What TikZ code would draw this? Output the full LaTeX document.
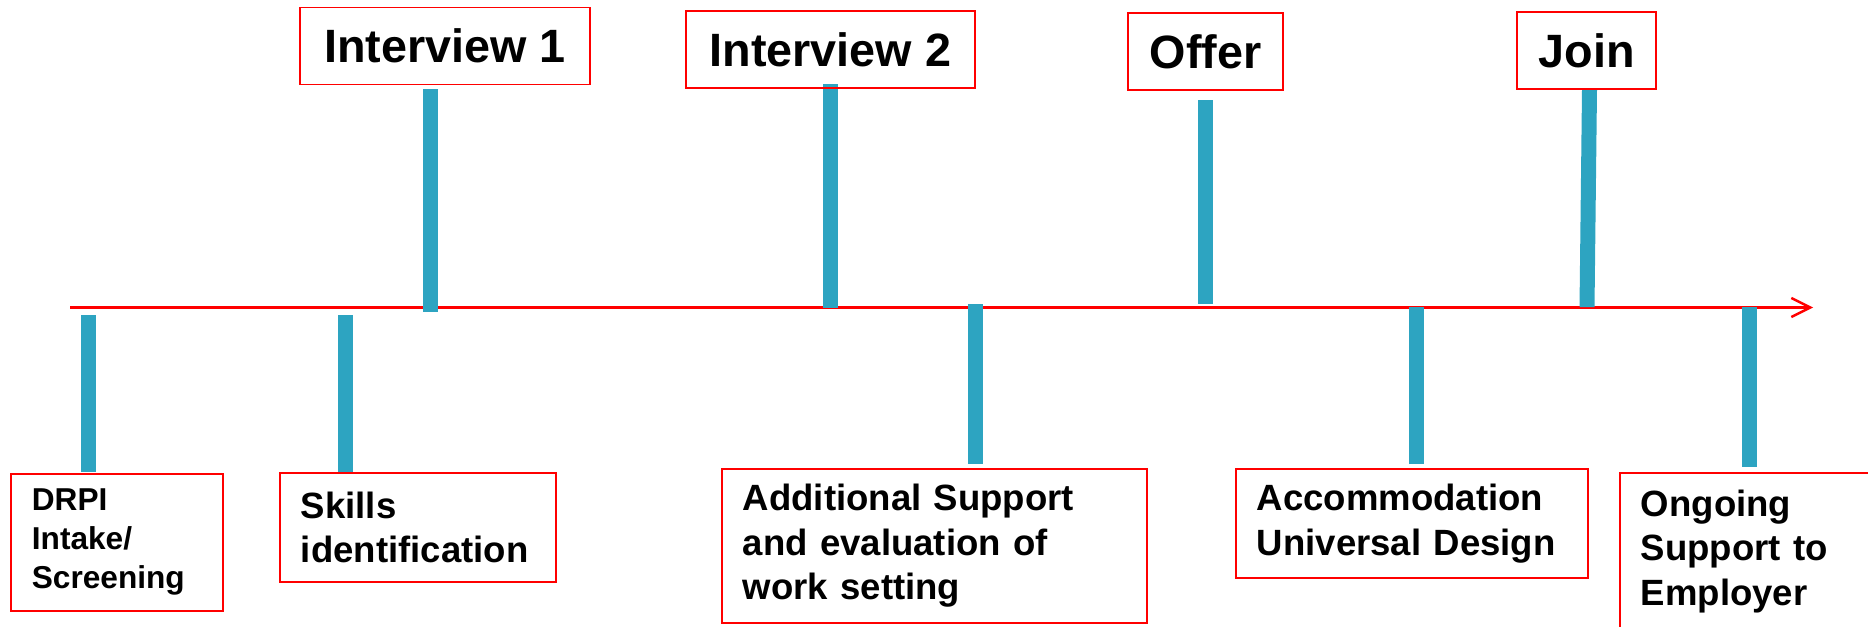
\documentclass[tikz,border=0pt]{standalone}
\usepackage{fontspec}
\setmainfont{Liberation Sans}
\usetikzlibrary{arrows.meta}
\definecolor{stemblue}{RGB}{45,164,193}
\begin{document}
\begin{tikzpicture}[
    topbox/.style={draw=red,line width=0.5pt,inner sep=0pt,minimum height=0.77cm,
        font=\fontsize{13.3}{15}\selectfont\bfseries},
    lowbox/.style={draw=red,line width=0.5pt,anchor=north west,inner xsep=0.21cm,inner ysep=0pt,
        align=left,font=\fontsize{10.4}{12.7}\selectfont\bfseries},
    stem/.style={fill=stemblue},
    axis/.style={draw=red,line width=0.7pt,-{Straight Barb[length=0.19cm,width=0.19cm,line width=0.7pt]}}]

    \useasboundingbox (0,0) rectangle (18.68,6.26);
    \clip (0,0) rectangle (18.68,6.26);

    % the time line
    \coordinate (start) at (0.70,3.185);
    \coordinate (end) at (18.13,3.185);
    \draw[axis] (start) -- (end);

    % stems above and below the line
    \fill[stem] (0.805,3.11) rectangle (0.955,1.54);
    \fill[stem] (3.38,3.11) rectangle (3.53,1.54);
    \fill[stem] (4.225,5.37) rectangle (4.375,3.14);
    \fill[stem] (8.23,5.42) rectangle (8.38,3.18);
    \fill[stem] (9.68,3.22) rectangle (9.83,1.62);
    \fill[stem] (11.98,5.26) rectangle (12.13,3.22);
    \fill[stem] (14.09,3.19) rectangle (14.24,1.62);
    \fill[stem] (15.82,5.37) -- (15.97,5.37) -- (15.945,3.19) -- (15.795,3.19) -- cycle;
    \fill[stem] (17.42,3.19) rectangle (17.57,1.59);

    % milestones
    \node[topbox,minimum width=2.90cm] (int1) at (4.45,5.80) {Interview 1};
    \node[topbox,minimum width=2.89cm] (int2) at (8.305,5.765) {Interview 2};
    \node[topbox,minimum width=1.55cm] (offer) at (12.055,5.745) {Offer};
    \node[topbox,minimum width=1.39cm] (join) at (15.865,5.755) {Join};

    % support steps
    \node[lowbox,text width=1.70cm,minimum height=1.37cm,
        font=\fontsize{9}{11.1}\selectfont\bfseries] (drpi) at (0.10,1.53) {DRPI\\Intake/\\Screening};
    \node[lowbox,text width=2.34cm,minimum height=1.09cm] (skills) at (2.79,1.54) {Skills\\identification};
    \node[lowbox,text width=3.83cm,minimum height=1.54cm] (support) at (7.21,1.58) {Additional Support\\and evaluation of\\work setting};
    \node[lowbox,text width=3.10cm,minimum height=1.09cm] (accom) at (12.35,1.58) {Accommodation\\Universal Design};
    \node[lowbox,text width=2.28cm,minimum height=1.57cm] (ongoing) at (16.19,1.54) {Ongoing\\Support to\\Employer};
\end{tikzpicture}
\end{document}
